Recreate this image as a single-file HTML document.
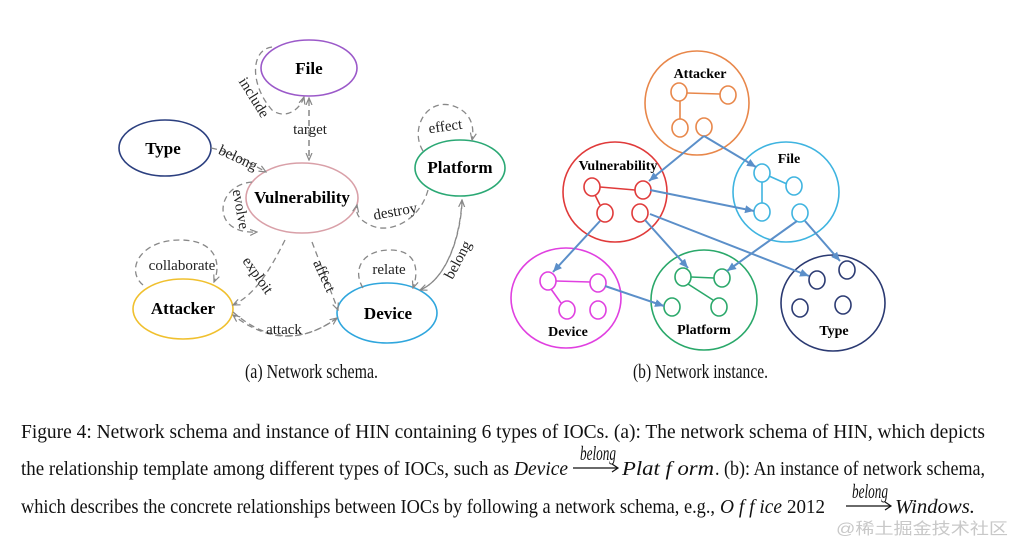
<!DOCTYPE html>
<html><head><meta charset="utf-8"><style>
html,body{margin:0;padding:0;background:#fff;}
svg{display:block;}
.n{font-family:"Liberation Serif",serif;font-weight:bold;font-size:17px;text-anchor:middle;}
.l{font-family:"Liberation Serif",serif;font-size:15px;fill:#222;text-anchor:middle;}
.d{fill:none;stroke:#888;stroke-width:1.3;stroke-dasharray:6,4;}
.c{font-family:"Liberation Serif",serif;font-size:20px;fill:#111;}
.i{font-style:italic;}
</style></head><body>
<svg width="1015" height="547" viewBox="0 0 1015 547" xmlns="http://www.w3.org/2000/svg">
<defs>
<marker id="ag" markerWidth="8" markerHeight="8" refX="7" refY="4" orient="auto" markerUnits="userSpaceOnUse"><path d="M0,1 L7,4 L0,7" fill="none" stroke="#888" stroke-width="1.2"/></marker>
<marker id="ab" markerWidth="10" markerHeight="10" refX="9" refY="5" orient="auto" markerUnits="userSpaceOnUse"><path d="M0,1 L9,5 L0,9 z" fill="#5b8fc9"/></marker>
</defs>
<g fill="none" stroke-width="1.6">
<ellipse cx="309" cy="68" rx="48" ry="28" stroke="#9b59c9"/>
<ellipse cx="165" cy="148" rx="46" ry="28" stroke="#2b3f7f"/>
<ellipse cx="302" cy="198" rx="56" ry="35" stroke="#d9a0a8"/>
<ellipse cx="460" cy="168" rx="45" ry="28" stroke="#2aa874"/>
<ellipse cx="183" cy="309" rx="50" ry="30" stroke="#f0c02e"/>
<ellipse cx="387" cy="313" rx="50" ry="30" stroke="#2fa6dd"/>
</g>
<text class="n" x="309" y="74">File</text>
<text class="n" x="163" y="154">Type</text>
<text class="n" x="302" y="203">Vulnerability</text>
<text class="n" x="460" y="173">Platform</text>
<text class="n" x="183" y="314">Attacker</text>
<text class="n" x="388" y="319">Device</text>
<path class="d" d="M272,47 C250,50 250,85 272,110 C285,120 300,110 304,97" marker-end="url(#ag)"/>
<path class="d" d="M309,156 L309,98" marker-end="url(#ag)"/>
<path class="d" d="M309,110 L309,160" marker-end="url(#ag)"/>
<path class="d" d="M211,148 C230,152 245,160 266,172" marker-end="url(#ag)"/>
<path class="d" d="M252,182 C215,185 210,235 257,232" marker-end="url(#ag)"/>
<path class="d" d="M423,151 C410,130 425,100 450,105 C470,110 475,125 472,140" marker-end="url(#ag)"/>
<path class="d" d="M428,190 C420,220 390,235 370,225 C360,220 355,215 357,205" marker-end="url(#ag)"/>
<path class="d" d="M143,285 C125,270 140,240 180,240 C215,240 222,262 214,282" marker-end="url(#ag)"/>
<path class="d" d="M285,240 C270,270 255,295 233,305" marker-end="url(#ag)"/>
<path class="d" d="M337,318 C300,345 265,340 233,315" marker-end="url(#ag)"/>
<path class="d" d="M233,312 C265,340 300,345 337,318" marker-end="url(#ag)"/>
<path class="d" d="M312,242 L338,310" marker-end="url(#ag)"/>
<path class="d" d="M363,288 C352,270 362,250 390,250 C415,250 420,268 413,288" marker-end="url(#ag)"/>
<path class="d" d="M420,290 C445,280 460,240 462,200" marker-end="url(#ag)"/>
<path class="d" d="M462,203 C460,240 445,280 420,290" marker-end="url(#ag)"/>
<text class="l" x="310" y="134">target</text>
<text class="l" transform="translate(250,100) rotate(58)">include</text>
<text class="l" transform="translate(236,162) rotate(25)">belong</text>
<text class="l" transform="translate(236,210) rotate(80)">evolve</text>
<text class="l" x="446" y="131" transform="rotate(-8 446 131)">effect</text>
<text class="l" transform="translate(396,216) rotate(-10)">destroy</text>
<text class="l" x="182" y="270">collaborate</text>
<text class="l" transform="translate(254,278) rotate(55)">exploit</text>
<text class="l" transform="translate(320,278) rotate(65)">affect</text>
<text class="l" x="389" y="274">relate</text>
<text class="l" transform="translate(462,262) rotate(-62)">belong</text>
<text class="l" x="284" y="334">attack</text>
<g fill="none" stroke-width="1.6">
<ellipse cx="697" cy="103" rx="52" ry="52" stroke="#e8874a"/>
<ellipse cx="615" cy="192" rx="52" ry="50" stroke="#e03a3a"/>
<ellipse cx="786" cy="192" rx="53" ry="50" stroke="#3fb4e0"/>
<ellipse cx="566" cy="298" rx="55" ry="50" stroke="#e040e0"/>
<ellipse cx="704" cy="300" rx="53" ry="50" stroke="#2aa86a"/>
<ellipse cx="833" cy="303" rx="52" ry="48" stroke="#2b3a72"/>
<g stroke="#e8874a"><ellipse cx="679" cy="92" rx="8" ry="9"/><ellipse cx="728" cy="95" rx="8" ry="9"/><ellipse cx="680" cy="128" rx="8" ry="9"/><ellipse cx="704" cy="127" rx="8" ry="9"/><path d="M687,93 L720,94 M680,101 L680,119"/></g>
<g stroke="#e03a3a"><ellipse cx="592" cy="187" rx="8" ry="9"/><ellipse cx="643" cy="190" rx="8" ry="9"/><ellipse cx="605" cy="213" rx="8" ry="9"/><ellipse cx="640" cy="213" rx="8" ry="9"/><path d="M600,187 L635,190 M595,195 L600,205"/></g>
<g stroke="#3fb4e0"><ellipse cx="762" cy="173" rx="8" ry="9"/><ellipse cx="794" cy="186" rx="8" ry="9"/><ellipse cx="762" cy="212" rx="8" ry="9"/><ellipse cx="800" cy="213" rx="8" ry="9"/><path d="M769,176 L787,184 M762,182 L762,203"/></g>
<g stroke="#e040e0"><ellipse cx="548" cy="281" rx="8" ry="9"/><ellipse cx="598" cy="283" rx="8" ry="9"/><ellipse cx="567" cy="310" rx="8" ry="9"/><ellipse cx="598" cy="310" rx="8" ry="9"/><path d="M556,281 L590,282 M551,289 L561,303"/></g>
<g stroke="#2aa86a"><ellipse cx="683" cy="277" rx="8" ry="9"/><ellipse cx="722" cy="278" rx="8" ry="9"/><ellipse cx="672" cy="307" rx="8" ry="9"/><ellipse cx="719" cy="307" rx="8" ry="9"/><path d="M691,277 L714,278 M688,284 L713,300"/></g>
<g stroke="#2b3a72"><ellipse cx="817" cy="280" rx="8" ry="9"/><ellipse cx="847" cy="270" rx="8" ry="9"/><ellipse cx="800" cy="308" rx="8" ry="9"/><ellipse cx="843" cy="305" rx="8" ry="9"/></g>
</g>
<g stroke="#5b8fc9" stroke-width="2" fill="none" marker-end="url(#ab)">
<path d="M704,136 L649,181"/>
<path d="M704,136 L756,167"/>
<path d="M650,190 L754,211"/>
<path d="M600,221 L553,272"/>
<path d="M645,220 L688,268"/>
<path d="M650,214 L809,276"/>
<path d="M797,221 L727,271"/>
<path d="M805,221 L840,261"/>
<path d="M605,286 L664,306"/>
</g>
<g class="n" style="font-size:14px">
<text x="700" y="78">Attacker</text>
<text x="618" y="170">Vulnerability</text>
<text x="789" y="163">File</text>
<text x="568" y="336">Device</text>
<text x="704" y="334">Platform</text>
<text x="834" y="335">Type</text>
</g>
<text class="c" font-size="15" x="245" y="378" textLength="133" lengthAdjust="spacingAndGlyphs">(a) Network schema.</text>
<text class="c" font-size="15" x="633" y="378" textLength="135" lengthAdjust="spacingAndGlyphs">(b) Network instance.</text>
<text class="c" x="21" y="438" textLength="964" lengthAdjust="spacingAndGlyphs">Figure 4: Network schema and instance of HIN containing 6 types of IOCs. (a): The network schema of HIN, which depicts</text>
<text class="c" x="21" y="475" textLength="488" lengthAdjust="spacingAndGlyphs">the relationship template among different types of IOCs, such as</text>
<text class="c i" x="514" y="475" textLength="54" lengthAdjust="spacingAndGlyphs">Device</text>
<text class="c i" font-size="13" x="580" y="460" textLength="36" lengthAdjust="spacingAndGlyphs">belong</text>
<path d="M573,468 L617,468 M612,464 L618,468 L612,472" stroke="#111" stroke-width="1.2" fill="none"/>
<text class="c i" x="622" y="475" textLength="92" lengthAdjust="spacingAndGlyphs">Plat f orm</text>
<text class="c" x="715" y="475" textLength="270" lengthAdjust="spacingAndGlyphs">. (b): An instance of network schema,</text>
<text class="c" x="21" y="513" textLength="694" lengthAdjust="spacingAndGlyphs">which describes the concrete relationships between IOCs by following a network schema, e.g.,</text>
<text class="c i" x="720" y="513" textLength="62" lengthAdjust="spacingAndGlyphs">O f f ice</text>
<text class="c" x="787" y="513" textLength="38" lengthAdjust="spacingAndGlyphs">2012</text>
<text class="c i" font-size="13" x="852" y="498" textLength="36" lengthAdjust="spacingAndGlyphs">belong</text>
<path d="M846,506 L890,506 M885,502 L891,506 L885,510" stroke="#111" stroke-width="1.2" fill="none"/>
<text class="c i" x="895" y="513" textLength="80" lengthAdjust="spacingAndGlyphs">Windows.</text>
<text x="836" y="534" font-family="'Liberation Sans','Noto Sans CJK SC',sans-serif" font-size="16" fill="#c8c8c8" textLength="172" lengthAdjust="spacingAndGlyphs">@稀土掘金技术社区</text>
</svg>
</body></html>
